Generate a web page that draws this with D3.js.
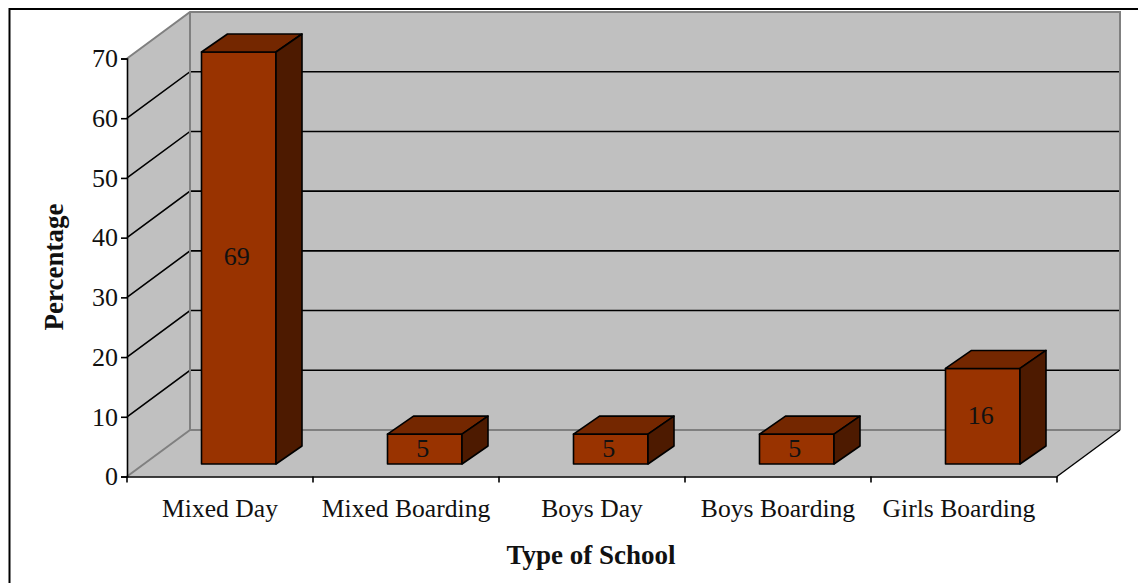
<!DOCTYPE html>
<html>
<head>
<meta charset="utf-8">
<script src="https://cdn.jsdelivr.net/npm/d3@7"></script>
<style>
html, body { margin: 0; padding: 0; background: #fff; overflow: hidden; }
text { font-family: "Liberation Serif", "Times New Roman", serif; fill: #111; }
</style>
</head>
<body>
<div id="chart"></div>
<script>
const categories = ["Mixed Day", "Mixed Boarding", "Boys Day", "Boys Boarding", "Girls Boarding"];
const percentages = [69, 5, 5, 5, 16];
const yTicks = [0, 10, 20, 30, 40, 50, 60, 70];
const yTitle = "Percentage";
const xTitle = "Type of School";

const width = 1138, height = 583;
const x0 = 127, x1 = 1057, y0 = 476.5, y70 = 58.5;
const depthX = 63, depthY = -46.5;       // floor depth
const barDX = 26, barDY = -18;           // bar depth
const barInset = 74.5, barFrontY = -12.5;  // gap from front of the floor

const svg = d3.select("#chart").append("svg")
    .attr("width", width)
    .attr("height", height)
    .style("display", "block");

const x = d3.scaleBand().domain(categories).range([x0, x1]);
const y = d3.scaleLinear().domain([0, 70]).range([y0, y70]);
const barWidth = 74.5;

const poly = pts => pts.map(p => p.join(",")).join(" ");

// frame
svg.append("path")
    .attr("d", d3.line()([[9.5, height], [9.5, 9], [width, 9]]))
    .attr("fill", "none").attr("stroke", "#000").attr("stroke-width", 2);

// walls and floor
svg.append("polygon")
    .attr("points", poly([[x0 + depthX, y(70) + depthY], [x1 + depthX, y(70) + depthY], [x1 + depthX, y0 + depthY], [x0 + depthX, y0 + depthY]]))
    .attr("fill", "#c0c0c0");
svg.append("polygon")
    .attr("points", poly([[x0, y(70)], [x0 + depthX, y(70) + depthY], [x0 + depthX, y0 + depthY], [x0, y0]]))
    .attr("fill", "#c0c0c0");
svg.append("polygon")
    .attr("points", poly([[x0, y0], [x0 + depthX, y0 + depthY], [x1 + depthX, y0 + depthY], [x1, y0]]))
    .attr("fill", "#c0c0c0");

// gridlines
const grid = svg.append("g").attr("fill", "none").attr("stroke", "#000").attr("stroke-width", 1.6);
yTicks.filter(d => d > 0 && d < 70).forEach(d => {
    grid.append("path").attr("d", d3.line()([[x0, y(d)], [x0 + depthX, y(d) + depthY], [x1 + depthX, y(d) + depthY]]));
});

// gray edges of the walls
const edges = svg.append("g").attr("fill", "none").attr("stroke", "#808080").attr("stroke-width", 2);
edges.append("path").attr("d", d3.line()([[x0, y(70)], [x0 + depthX, y(70) + depthY], [x1 + depthX, y(70) + depthY], [x1 + depthX, y0 + depthY]]));
edges.append("path").attr("d", d3.line()([[x0 + depthX, y(70) + depthY], [x0 + depthX, y0 + depthY], [x1 + depthX, y0 + depthY]]));
edges.append("path").attr("d", d3.line()([[x0, y0], [x0 + depthX, y0 + depthY]]));
svg.append("path")
    .attr("d", d3.line()([[x1, y0], [x1 + depthX, y0 + depthY]]))
    .attr("fill", "none").attr("stroke", "#000").attr("stroke-width", 1.4);

// bars
const bars = svg.append("g").selectAll("g")
    .data(categories.map((c, i) => ({cat: c, val: percentages[i]})))
    .join("g")
    .attr("stroke", "#000")
    .attr("stroke-width", 1.6)
    .attr("stroke-linejoin", "round");

const left = d => x(d.cat) + barInset;
const base = y0 + barFrontY;
const top_ = d => base - (y0 - y(d.val));

bars.append("polygon")
    .attr("fill", "#993300")
    .attr("points", d => poly([[left(d), top_(d)], [left(d) + barWidth, top_(d)], [left(d) + barWidth, base], [left(d), base]]));
bars.append("polygon")
    .attr("fill", "#742700")
    .attr("points", d => poly([[left(d), top_(d)], [left(d) + barDX, top_(d) + barDY], [left(d) + barWidth + barDX, top_(d) + barDY], [left(d) + barWidth, top_(d)]]));
bars.append("polygon")
    .attr("fill", "#4d1a00")
    .attr("points", d => poly([[left(d) + barWidth, top_(d)], [left(d) + barWidth + barDX, top_(d) + barDY], [left(d) + barWidth + barDX, base + barDY], [left(d) + barWidth, base]]));
bars.append("text")
    .attr("x", d => left(d) + barWidth / 2 - 2)
    .attr("y", d => (top_(d) + base) / 2 + 7.5)
    .attr("text-anchor", "middle")
    .attr("stroke", "none")
    .style("font-size", "26px")
    .text(d => d.val);

// axes
const axisLeft = d3.axisLeft(y).tickValues(yTicks).tickSize(6).tickPadding(3);
const gy = svg.append("g").attr("transform", `translate(${x0},0)`).call(axisLeft);
gy.select(".domain").attr("stroke", "#000").attr("stroke-width", 1.6);
gy.selectAll(".tick line").attr("stroke", "#000").attr("stroke-width", 1.6);
gy.selectAll("text").style("font-size", "26px");

const axisBottom = d3.axisBottom(x).tickSizeOuter(0).tickSize(0).tickPadding(22);
const gx = svg.append("g").attr("transform", `translate(0,${y0})`).call(axisBottom);
gx.select(".domain").attr("stroke", "#000").attr("stroke-width", 1.6);
gx.selectAll("text").style("font-size", "25.6px");
gx.selectAll("text").filter(d => d === "Girls Boarding").attr("dx", -5);
gx.selectAll(".sep")
    .data(d3.range(categories.length + 1))
    .join("line")
    .attr("class", "sep")
    .attr("x1", i => x0 + i * x.bandwidth())
    .attr("x2", i => x0 + i * x.bandwidth())
    .attr("y1", 0).attr("y2", 6)
    .attr("stroke", "#000").attr("stroke-width", 1.6);

// titles
svg.append("text")
    .attr("transform", "translate(63,267) rotate(-90)")
    .attr("text-anchor", "middle")
    .style("font-size", "27px").style("font-weight", "bold")
    .text(yTitle);
svg.append("text")
    .attr("x", 591).attr("y", 564)
    .attr("text-anchor", "middle")
    .style("font-size", "27px").style("font-weight", "bold")
    .text(xTitle);
</script>
</body>
</html>
